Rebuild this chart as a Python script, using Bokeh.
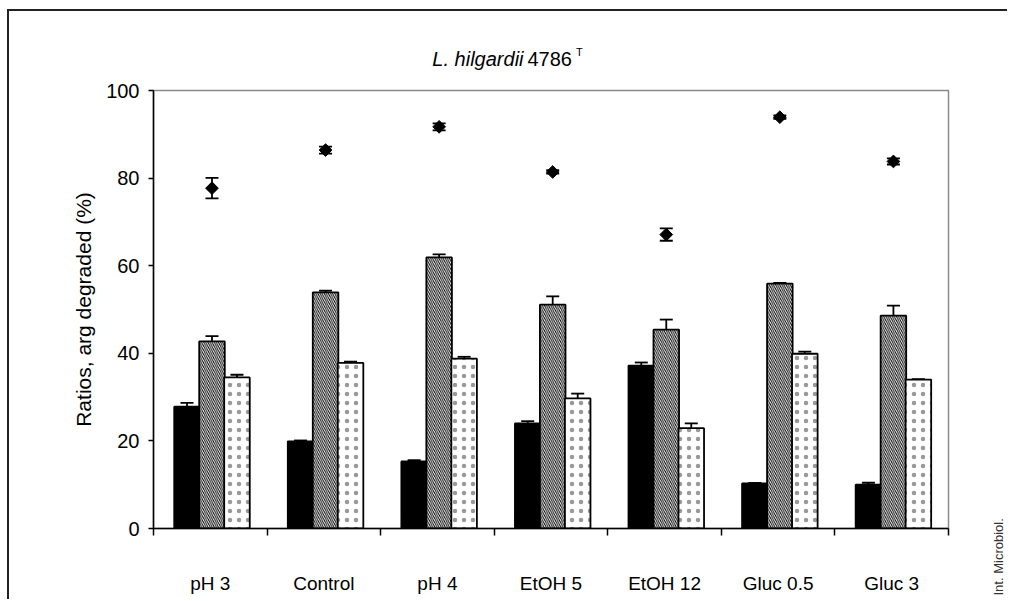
import numpy as np
from bokeh.plotting import figure
from bokeh.models import (ColumnDataSource, Whisker, TeeHead, FixedTicker, Label, Range1d)
from bokeh.embed import file_html
from bokeh.resources import INLINE

categories = ["pH 3", "Control", "pH 4", "EtOH 5", "EtOH 12", "Gluc 0.5", "Gluc 3"]
series_a = [27.8, 19.9, 15.3, 24.0, 37.2, 10.3, 10.0]      # black bars
series_a_err = [0.9, 0.2, 0.3, 0.5, 0.7, 0.1, 0.45]
series_b = [42.7, 53.9, 61.9, 51.1, 45.4, 55.9, 48.6]      # hatched bars
series_b_err = [1.2, 0.4, 0.7, 1.9, 2.3, 0.2, 2.3]
series_c = [34.5, 37.8, 38.8, 29.7, 22.9, 39.9, 34.0]      # dotted bars
series_c_err = [0.6, 0.3, 0.4, 1.1, 1.1, 0.5, 0.1]
degraded = [77.7, 86.4, 91.7, 81.4, 67.1, 93.9, 83.8]      # diamonds
degraded_err = [2.35, 0.8, 0.8, 0.4, 1.4, 0.4, 0.7]
y_ticks = [0, 20, 40, 60, 80, 100]

FONT = "Liberation Sans"
n = len(categories)
centers = np.arange(n) + 0.5
bw = 0.225
offsets = [-0.205, 0.015, 0.235]

p = figure(width=1000, height=590, output_backend="svg", toolbar_location=None,
           x_range=Range1d(0, n), y_range=Range1d(0, 100), title=None,
           min_border_left=144, min_border_right=61, min_border_top=79,
           min_border_bottom=73)
# page frame (top and left rules) drawn as the figure element's border
p.styles = {"margin-left": "7px", "margin-top": "9px",
            "border-top": "2px solid #222222", "border-left": "2px solid #222222"}
p.xgrid.visible = False
p.ygrid.visible = False
p.background_fill_color = "white"
p.border_fill_color = "white"
p.outline_line_color = "#8a8a8a"
p.outline_line_width = 1.5

styles = [
    dict(fill_color="black", hatch_pattern=None),
    dict(fill_color="white", hatch_pattern="\\", hatch_color="black",
         hatch_scale=4.2, hatch_weight=1.0),
    dict(fill_color="white", hatch_pattern=".", hatch_color="#999999",
         hatch_scale=9, hatch_weight=0.2),
]
vals = [series_a, series_b, series_c]
errs = [series_a_err, series_b_err, series_c_err]

for k in range(3):
    x = centers + offsets[k]
    v = np.array(vals[k])
    e = np.array(errs[k])
    src = ColumnDataSource(dict(x=x, top=v, upper=v + e))
    w = Whisker(base="x", lower="top", upper="upper", source=src,
                line_color="black", line_width=1.8, lower_head=None,
                upper_head=TeeHead(size=13, line_color="black", line_width=1.8))
    p.add_layout(w)
    st = styles[k]
    kw = dict(x="x", top="top", bottom=0, width=bw, source=src,
              line_color="black", line_width=1.8, fill_color=st["fill_color"])
    if st["hatch_pattern"]:
        kw.update(hatch_pattern=st["hatch_pattern"], hatch_color=st["hatch_color"],
                  hatch_scale=st["hatch_scale"], hatch_weight=st["hatch_weight"])
    p.vbar(**kw)

d = np.array(degraded)
de = np.array(degraded_err)
dsrc = ColumnDataSource(dict(x=centers + offsets[1], y=d, lo=d - de, hi=d + de))
p.add_layout(Whisker(base="x", lower="lo", upper="hi", source=dsrc,
                     line_color="black", line_width=1.8,
                     lower_head=TeeHead(size=13, line_color="black", line_width=1.8),
                     upper_head=TeeHead(size=13, line_color="black", line_width=1.8)))
p.scatter("x", "y", source=dsrc, marker="square", angle=np.pi / 4, size=9,
          fill_color="black", line_color="black")

# axes
xa = p.xaxis[0]
xa.ticker = FixedTicker(ticks=list(centers), minor_ticks=list(np.arange(n + 1)))
xa.major_label_overrides = {float(c): lab for c, lab in zip(centers, categories)}
xa.major_tick_out = 0
xa.major_tick_in = 0
xa.minor_tick_out = 7
xa.minor_tick_in = 0
xa.minor_tick_line_color = "black"
xa.minor_tick_line_width = 1.5
xa.axis_line_color = "black"
xa.axis_line_width = 1.5
xa.major_label_standoff = 37
xa.major_label_text_font = FONT
xa.major_label_text_font_size = "19px"
xa.major_label_text_color = "black"

ya = p.yaxis[0]
ya.ticker = FixedTicker(ticks=y_ticks, minor_ticks=[])
ya.major_tick_out = 5
ya.major_tick_in = 0
ya.major_tick_line_color = "black"
ya.major_tick_line_width = 1.5
ya.axis_line_color = "black"
ya.axis_line_width = 1.5
ya.major_label_standoff = 9
ya.major_label_text_font = FONT
ya.major_label_text_font_size = "20px"
ya.major_label_text_color = "black"
ya.axis_label = "Ratios, arg degraded (%)"
ya.axis_label_text_font = FONT
ya.axis_label_text_font_size = "21px"
ya.axis_label_text_font_style = "normal"
ya.axis_label_text_color = "black"
ya.axis_label_standoff = 8

# title pieces (in the side panel so they are not clipped to the frame)
p.add_layout(Label(x=3.258, y=107.3, text="L. hilgardii", text_align="right",
                   text_baseline="alphabetic", text_font=FONT, text_font_style="italic",
                   text_font_size="20px", text_color="black"), "above")
p.add_layout(Label(x=3.293, y=107.3, text="4786", text_align="left",
                   text_baseline="alphabetic", text_font=FONT,
                   text_font_size="20px", text_color="black"), "above")
p.add_layout(Label(x=3.72, y=108.9, text="T", text_align="left",
                   text_baseline="alphabetic", text_font=FONT,
                   text_font_size="11px", text_color="black"), "above")

# credit
p.add_layout(Label(x=7.44, y=-15.3, text="Int. Microbiol.", angle=np.pi / 2,
                   text_align="left", text_baseline="middle", text_font=FONT,
                   text_font_size="13px", text_color="#333333"), "right")

open("out.html", "w").write(file_html(p, INLINE))
